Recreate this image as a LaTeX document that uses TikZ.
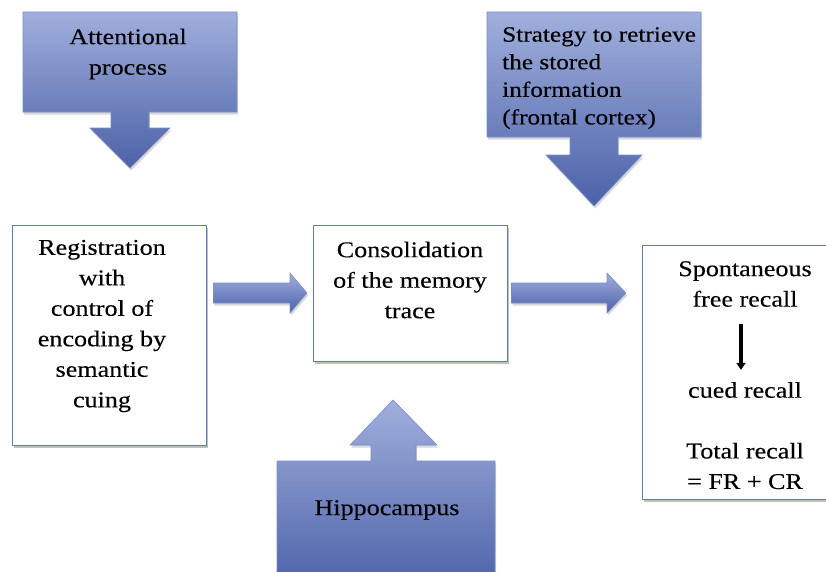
\documentclass[tikz,border=0pt]{standalone}
\usepackage{fontspec}
\setmainfont[FakeStretch=1.16,FakeBold=0.25]{Liberation Serif}
\usetikzlibrary{calc,shadows,arrows.meta}
\definecolor{bluetop}{RGB}{160,175,220}
\definecolor{bluebot}{RGB}{76,97,168}
\definecolor{edgeblue}{RGB}{96,122,194}
\definecolor{shadowgray}{RGB}{140,140,140}
\tikzset{
  whitebox/.style={draw=edgeblue, line width=1.3pt, fill=white, inner sep=0pt,
    drop shadow={shadow xshift=1.2pt, shadow yshift=-2.5pt, fill=shadowgray, opacity=0.55}},
  bluefill/.style={top color=bluetop, bottom color=bluebot, draw=edgeblue!85, line width=0.6pt,
    drop shadow={shadow xshift=1.2pt, shadow yshift=-2.5pt, fill=shadowgray, opacity=0.35}},
  txt/.style={font=\fontsize{22.5}{30.5}\selectfont, align=center, inner sep=0pt, text=black},
  txtsmall/.style={font=\fontsize{21.8}{27.6}\selectfont, align=left, inner sep=0pt, text=black},
  blackarrow/.style={line width=3.2pt, -{Triangle[width=9pt,length=7pt]}}
}
\begin{document}
\begin{tikzpicture}[x=1pt,y=-1pt]
\useasboundingbox (0,0) rectangle (826,571);
\clip (0,0) rectangle (826,571);

% callout: attentional process
\path[bluefill] (23,12) -- (237,12) -- (237,112) -- (149,112) -- (149,128) -- (170,128)
  -- (130,168) -- (90,128) -- (111,128) -- (111,112) -- (23,112) -- cycle;
\node[txt] (att) at (128,54) {Attentional\\process};

% callout: strategy
\path[bluefill] (487,12) -- (701,12) -- (701,137) -- (618,137) -- (618,155) -- (642,155)
  -- (594,206) -- (546,155) -- (570,155) -- (570,137) -- (487,137) -- cycle;
\node[txtsmall, anchor=north west] (strat) at (502,27) {Strategy to retrieve\\the stored\\information\\(frontal cortex)};

% callout: hippocampus
\path[bluefill] (277,461) -- (371,461) -- (371,445) -- (350,445) -- (393,400) -- (437,445)
  -- (416,445) -- (416,461) -- (495,461) -- (495,590) -- (277,590) -- cycle;
\node[txt] (hip) at (387,510) {Hippocampus};

% white boxes
\node[whitebox, minimum width=194, minimum height=220, anchor=north west] (reg) at (12,225) {};
\node[txt] (regt) at (102,326) {Registration\\with\\control of\\encoding by\\semantic\\cuing};

\node[whitebox, minimum width=194, minimum height=136, anchor=north west] (cons) at (313,225) {};
\node[txt] (const) at (410,280) {Consolidation\\of the memory\\trace};

\node[whitebox, minimum width=200, minimum height=254, anchor=north west] (rec) at (642,245) {};
\node[txt] (sp) at (745,284) {Spontaneous\\free recall};
\node[txt] (cued) at (745,390) {cued recall};
\node[txt] (total) at (745,466) {Total recall\\= FR + CR};
\draw[blackarrow, shorten <=17pt, shorten >=12pt] (sp.south -| 741,0) -- (cued.north -| 741,0);

% block arrows
\coordinate (a1s) at ($(reg.north east)+(6,68)$);
\coordinate (a1e) at ($(cons.north west)+(-6,68)$);
\path[bluefill] ($(a1s)+(0,-10)$) -- ($(a1e)+(-17,-10)$) -- ($(a1e)+(-17,-20)$) -- (a1e)
  -- ($(a1e)+(-17,20)$) -- ($(a1e)+(-17,10)$) -- ($(a1s)+(0,10)$) -- cycle;

\coordinate (a2s) at ($(cons.north east)+(3,68)$);
\coordinate (a2e) at ($(rec.north west)+(-16,48)$);
\path[bluefill] ($(a2s)+(0,-10)$) -- ($(a2e)+(-19,-10)$) -- ($(a2e)+(-19,-20)$) -- (a2e)
  -- ($(a2e)+(-19,20)$) -- ($(a2e)+(-19,10)$) -- ($(a2s)+(0,10)$) -- cycle;
\end{tikzpicture}
\end{document}
